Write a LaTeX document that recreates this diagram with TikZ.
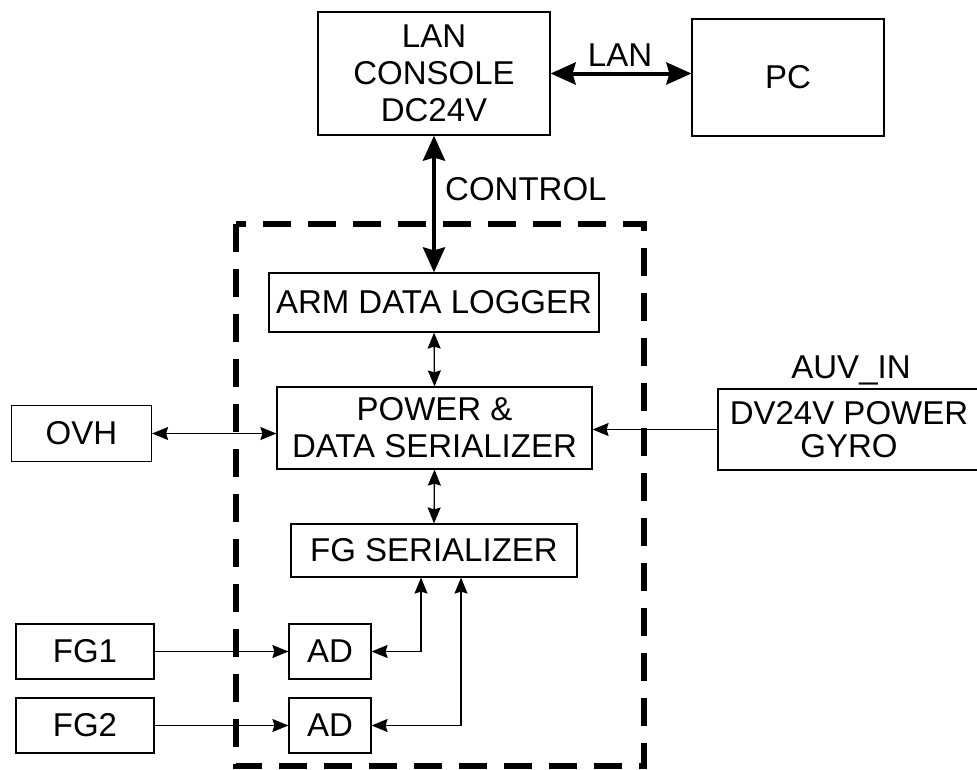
\documentclass[tikz,border=0pt]{standalone}
\usepackage{fontspec}
\setmainfont{Liberation Sans}
\usetikzlibrary{arrows.meta}
\begin{document}
\begin{tikzpicture}[x=1pt,y=-1pt,
  box/.style={draw, line width=1.2pt, inner sep=0pt, align=center, font=\fontsize{33}{37}\selectfont},
  lbl/.style={inner sep=0pt, font=\fontsize{33}{37}\selectfont},
  thinarr/.style={line width=1.3pt, {Stealth[length=16pt,width=13pt,inset=2pt]}-{Stealth[length=16pt,width=13pt,inset=2pt]}},
  thinone/.style={line width=1.3pt, -{Stealth[length=16pt,width=13pt,inset=2pt]}},
  thickarr/.style={line width=4pt, {Stealth[length=25pt,width=22pt,inset=3pt]}-{Stealth[length=25pt,width=22pt,inset=3pt]}},
  frame/.style={line width=6pt, dash pattern=on 28pt off 17pt}
]
\useasboundingbox (0,0) rectangle (977,769);
% dashed enclosure
\draw[frame] (236,224) rectangle (644,766);
% nodes
\node[box, minimum width=232pt, minimum height=123pt] (console) at (434,73.5) {LAN\\CONSOLE\\DC24V};
\node[box, minimum width=192pt, minimum height=117pt] (pc) at (788,77.5) {PC};
\node[box, minimum width=330pt, minimum height=59pt] (arm) at (434,302.5) {ARM DATA LOGGER};
\node[box, minimum width=315pt, minimum height=82pt] (power) at (434.5,428) {POWER \&\\DATA SERIALIZER};
\node[box, minimum width=140pt, minimum height=56pt] (ovh) at (81.5,433.5) {OVH};
\node[box, minimum width=262pt, minimum height=81pt, font=\fontsize{33}{33}\selectfont] (dv) at (849,429.5) {DV24V POWER\\GYRO};
\node[box, minimum width=286pt, minimum height=53pt] (fgs) at (434,550.5) {FG SERIALIZER};
\node[box, minimum width=138pt, minimum height=55pt] (fg1) at (85,651.5) {FG1};
\node[box, minimum width=138pt, minimum height=55pt] (fg2) at (85,725.5) {FG2};
\node[box, minimum width=82pt, minimum height=55pt] (ad1) at (330,651.5) {AD};
\node[box, minimum width=82pt, minimum height=55pt] (ad2) at (330,725.5) {AD};
% labels
\node[lbl, anchor=base] (lanlbl) at (620,66) {LAN};
\node[lbl, anchor=base west] (ctrl) at (445,200) {CONTROL};
\node[lbl, anchor=base] (auv) at (851,378) {AUV\_IN};
% connectors
\draw[thickarr] (console.east) -- (console.east -| pc.west);
\draw[thickarr] (console.south) -- (arm.north);
\draw[thinarr] (arm.south) -- (power.north);
\draw[thinarr] (power.south) -- (fgs.north);
\draw[thinarr] (ovh.east) -- (ovh.east -| power.west);
\draw[thinone] (dv.west) -- (dv.west -| power.east);
\draw[thinone] (fg1.east) -- (ad1.west);
\draw[thinone] (fg2.east) -- (ad2.west);
\draw[thinarr] (ad1.east) -| ([xshift=-13pt]fgs.south);
\draw[thinarr] (ad2.east) -| ([xshift=27pt]fgs.south);
\end{tikzpicture}
\end{document}
